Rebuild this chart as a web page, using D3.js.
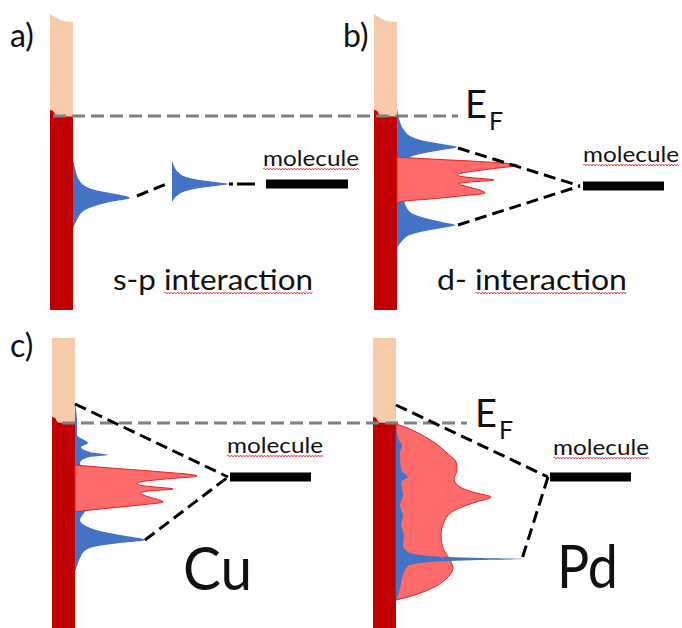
<!DOCTYPE html>
<html>
<head>
<meta charset="utf-8">
<script src="https://cdn.jsdelivr.net/npm/d3@7"></script>
<style>
  html, body { margin: 0; background: #fff; }
  svg { display: block; }
  text { font-family: Lato, "Open Sans", sans-serif; fill: #111; }
</style>
</head>
<body>
<svg id="fig" width="682" height="628"></svg>
<script>
// Energies are in arbitrary units relative to the Fermi level (E = 0, negative = bound),
// densities of states in arbitrary units measured from the metal surface.

const panelTags = ["a)", "b)", "c)", ""];
const captions = ["s-p interaction", "d- interaction", "Cu", "Pd"];
const moleculeLevel = [-6.8, -7.0, -5.4, -5.4];
const moleculeSpan = [[19.3, 27.5], [18.6, 26.7], [15.5, 23.6], [15.4, 23.5]];
const bandTop = [10.2, 10.2, 8.5, 8.5];
const bandBottom = [-19.4, -19.4, -21, -21];

// s-p projected density of states [density, energy]
const spA = [[0,-4.4],[0.1,-4.8],[0.3,-5.6],[0.6,-6.4],[1.2,-7.0],[2.2,-7.4],[3.7,-7.7],[5.7,-8.2],
  [3.7,-8.6],[2.2,-9.0],[1.2,-9.4],[0.6,-10.0],[0.3,-10.6],[0.1,-11.0],[0,-11.3]];
// broadened molecular level in panel a, standing on density 9.9
const spAmolBase = 9.9;
const spAmol = [[9.9,-4.4],[10.1,-5.0],[10.5,-5.6],[11.3,-6.1],[12.7,-6.4],[14.2,-6.6],[15.5,-6.8],
  [14.2,-7.0],[12.7,-7.2],[11.3,-7.5],[10.5,-7.9],[10.1,-8.3],[9.9,-8.6]];
const spB = [[0,0.8],[0.1,0.2],[0.3,-0.6],[0.7,-1.4],[1.5,-2.1],[2.8,-2.5],[4.5,-2.8],[6.0,-3.1],
  [4.5,-3.4],[2.8,-3.7],[1.3,-4.1],[0.7,-4.6],[0.5,-6.4],[0.7,-8.4],[1.3,-9.6],[2.8,-10.2],
  [4.5,-10.6],[5.8,-10.9],[4.5,-11.2],[2.8,-11.5],[1.3,-11.9],[0.6,-12.4],[0.2,-12.9],[0,-13.2]];
const spC = [[0,2.0],[0.1,1.3],[0.2,0.3],[0.2,-1.2],[1.3,-2.0],[0.6,-2.4],[1.5,-2.9],[3.3,-3.2],
  [1.5,-3.4],[0.6,-3.8],[0.5,-4.0],[0.9,-4.9],[0.5,-5.7],[1.1,-6.5],[0.7,-7.4],[1.3,-8.2],
  [0.9,-9.0],[0.5,-9.7],[1.1,-10.3],[2.5,-10.8],[4.5,-11.2],[7.0,-11.7],[4.5,-12.0],[2.3,-12.3],
  [1.1,-12.7],[0.5,-13.5],[0.2,-14.3],[0,-14.8]];
const spD = [[0,-0.2],[0.3,-1.7],[0.6,-2.3],[0.4,-2.9],[0.5,-4.7],[1.2,-5.4],[0.5,-5.9],[0.7,-7.2],
  [0.4,-8.2],[0.7,-9.2],[0.5,-10.2],[0.8,-11.2],[0.7,-12.2],[1.2,-12.9],[3.4,-13.3],[8.4,-13.5],
  [12.6,-13.6],[8.4,-13.7],[3.4,-13.9],[1.2,-14.3],[0.7,-15.2],[0.4,-16.5],[0.1,-17.5],[0,-17.7]];

// d projected density of states [density, energy]
const dB = [[0,-4.1],[3.3,-4.3],[7.3,-4.5],[12.1,-4.9],[9.3,-5.3],[6.5,-5.7],[6.0,-5.9],[6.8,-6.1],
  [9.7,-6.4],[7.3,-6.6],[6.1,-6.8],[6.8,-7.0],[8.8,-7.7],[6.3,-8.0],[3.3,-8.3],[0.8,-8.5],[0,-8.7]];
const dC = [[0,-4.2],[3.5,-4.5],[7.5,-4.8],[12.2,-5.3],[9.0,-5.6],[6.5,-5.9],[6.2,-6.1],[7.0,-6.3],
  [9.8,-6.6],[7.3,-6.8],[6.5,-7.0],[7.1,-7.3],[8.8,-7.9],[6.5,-8.2],[3.5,-8.5],[0.7,-8.8],[0,-8.9]];
const dD = [[0,-0.1],[0.9,-0.4],[2.4,-1.1],[3.9,-2.0],[5.1,-3.0],[6.0,-3.9],[6.1,-4.7],[5.8,-5.6],
  [6.4,-6.4],[8.0,-7.0],[9.5,-7.4],[8.0,-7.9],[5.9,-8.7],[4.8,-9.9],[4.5,-11.2],[4.7,-12.5],
  [5.4,-13.7],[5.7,-14.5],[5.1,-15.5],[3.2,-16.7],[1.2,-17.4],[0,-17.7]];

// coupling between metal states and the molecular level
const linksA = [[[6.4,-8.0],[9.6,-6.7]]];
const linksB = [[[6.1,-3.2],[18.3,-7.0]], [[6.1,-10.9],[18.3,-7.0]]];
const linksC = [[[0,1.9],[15.3,-5.4]], [[7.0,-11.7],[15.3,-5.4]]];
const linksD = [[[0,1.8],[15.2,-5.4]], [[15.2,-5.4],[12.6,-13.6]]];
// dash-dot join from the broadened level to the molecule in panel a
const joinA = [[15.6,-6.8],[19.2,-6.8]];

// ---- layout of the four panels ----
const frames = [
  { ox: 73,  oy: 116, tag: [10, 47],  cap: [113, 290], capSize: 29, capLen: 200, mol: [-3, -18], ef: null },
  { ox: 397, oy: 116, tag: [343, 47], cap: [437, 290], capSize: 29, capLen: 190, mol: [0, -24],  ef: [6.8, -0.2] },
  { ox: 75,  oy: 423, tag: [10, 357], cap: [183, 590], capSize: 60, capLen: 69,  mol: [-3, -24], ef: null },
  { ox: 396, oy: 423, tag: null,      cap: [557, 588], capSize: 60, capLen: 61,  mol: [3, -22],  ef: [7.9, -0.4] }
];
frames.forEach(f => {
  f.x = d3.scaleLinear().domain([0, 10]).range([f.ox, f.ox + 100]);
  f.y = d3.scaleLinear().domain([0, -10]).range([f.oy, f.oy + 100]);
});

// layer: 0 = under the d band, 1 = over it
const spProfiles = [
  { p: 0, base: 0, pts: spA, layer: 0 }, { p: 0, base: spAmolBase, pts: spAmol, layer: 0 },
  { p: 1, base: 0, pts: spB, layer: 0 }, { p: 2, base: 0, pts: spC, layer: 0 },
  { p: 3, base: 0, pts: spD, layer: 1 }
];
const dProfiles = [{ p: 1, pts: dB }, { p: 2, pts: dC }, { p: 3, pts: dD }];
const links = [linksA, linksB, linksC, linksD];

const COL = { empty: "#f8cbad", filled: "#c00000", sp: "#4472c4", d: "#ff6b6b", dLine: "#e0201e", ef: "#808080" };

const svg = d3.select("#fig");
const barW = 2.3;

// ---- metal bands: empty states above E_F, filled below ----
frames.forEach((f, i) => {
  const g = svg.append("g");
  const line = d3.line().x(d => f.x(d[0])).y(d => f.y(d[1])).curve(d3.curveMonotoneX);
  const top = bandTop[i];
  const topEdge = i < 2
    ? [[-barW, top], [-1.9, top - 0.25], [-1.4, top - 0.55], [-0.7, top - 0.75], [0, top - 0.8]]
    : [[-barW, top], [0, top]];
  g.append("path")
    .attr("d", line(topEdge) + `L${f.x(0)},${f.y(0)}L${f.x(-barW)},${f.y(0)}Z`)
    .attr("fill", COL.empty);
  const fermiEdge = [[-barW, 0.6], [-2.0, 0.5], [-1.7, 0.05], [0, -0.05]];
  g.append("path")
    .attr("d", line(fermiEdge) + `L${f.x(0)},${f.y(bandBottom[i])}L${f.x(-barW)},${f.y(bandBottom[i])}Z`)
    .attr("fill", COL.filled);
});

// ---- Fermi level ----
const efLines = [
  [frames[0].x(-2.0), frames[1].x(6.1), frames[0].y(0)],
  [frames[2].x(-1.3), frames[3].x(7.1), frames[2].y(0)]
];
svg.selectAll("line.ef").data(efLines).join("line")
  .attr("x1", d => d[0]).attr("x2", d => d[1]).attr("y1", d => d[2]).attr("y2", d => d[2])
  .attr("stroke", COL.ef).attr("stroke-width", 3).attr("stroke-dasharray", "13 6");

// ---- projected densities of states ----
const dosArea = (f, base) => d3.area()
  .curve(d3.curveMonotoneY)
  .y(d => f.y(d[1]))
  .x0(() => f.x(base))
  .x1(d => f.x(d[0]));

function drawSp(layer) {
  spProfiles.filter(s => s.layer === layer).forEach(s => {
    const f = frames[s.p];
    svg.append("path").attr("d", dosArea(f, s.base)(s.pts)).attr("fill", COL.sp);
  });
}
drawSp(0);
dProfiles.forEach(s => {
  const f = frames[s.p];
  svg.append("path").attr("d", dosArea(f, 0)(s.pts))
    .attr("fill", COL.d).attr("stroke", COL.dLine).attr("stroke-width", 1);
});
drawSp(1);

// ---- coupling lines ----
links.forEach((set, i) => {
  const f = frames[i];
  set.forEach(l => {
    svg.append("line")
      .attr("x1", f.x(l[0][0])).attr("y1", f.y(l[0][1]))
      .attr("x2", f.x(l[1][0])).attr("y2", f.y(l[1][1]))
      .attr("stroke", "#000").attr("stroke-width", 3).attr("stroke-dasharray", "12 6");
  });
});
svg.append("line")
  .attr("x1", frames[0].x(joinA[0][0])).attr("y1", frames[0].y(joinA[0][1]))
  .attr("x2", frames[0].x(joinA[1][0])).attr("y2", frames[0].y(joinA[1][1]))
  .attr("stroke", "#000").attr("stroke-width", 3).attr("stroke-dasharray", "4 4 18 100");

// ---- molecular levels ----
function squiggle(x1, x2, y) {
  let d = `M${x1},${y}`;
  let up = true;
  for (let x = x1 + 1.5; x <= x2; x += 1.5) { d += `L${x},${y + (up ? -1 : 1)}`; up = !up; }
  return d;
}
frames.forEach((f, i) => {
  const [a, b] = moleculeSpan[i];
  const yL = f.y(moleculeLevel[i]);
  svg.append("rect")
    .attr("x", f.x(a)).attr("width", f.x(b) - f.x(a))
    .attr("y", yL - 4.5).attr("height", 9).attr("fill", "#000");
  const tx = f.x(a) + f.mol[0], ty = yL + f.mol[1];
  svg.append("text").attr("x", tx).attr("y", ty)
    .attr("font-size", 21).attr("textLength", 96).attr("lengthAdjust", "spacingAndGlyphs")
    .text("molecule");
  svg.append("path").attr("d", squiggle(tx, tx + 96, ty + 3))
    .attr("fill", "none").attr("stroke", "#e23b3b").attr("stroke-width", 0.9);
});

// ---- labels ----
frames.forEach((f, i) => {
  if (f.tag) {
    svg.append("text").attr("x", f.tag[0]).attr("y", f.tag[1])
      .attr("font-size", 32).text(panelTags[i]);
  }
  const t = svg.append("text").attr("x", f.cap[0]).attr("y", f.cap[1])
    .attr("font-size", f.capSize)
    .attr("textLength", f.capLen).attr("lengthAdjust", "spacingAndGlyphs")
    .text(captions[i]);
  const k = captions[i].indexOf("interaction");
  if (k >= 0) {
    const node = t.node();
    const xs = node.getStartPositionOfChar(k).x;
    const xe = node.getEndPositionOfChar(captions[i].length - 1).x;
    svg.append("path").attr("d", squiggle(xs, xe, f.cap[1] + 3))
      .attr("fill", "none").attr("stroke", "#e23b3b").attr("stroke-width", 0.9);
  }
  if (f.ef) {
    const ex = f.x(f.ef[0]), ey = f.y(f.ef[1]);
    const ef = svg.append("text").attr("x", ex).attr("y", ey).attr("font-size", 38);
    ef.append("tspan").text("E");
    ef.append("tspan").attr("font-size", 25).attr("dx", 2).attr("dy", 12).text("F");
  }
});
</script>
</body>
</html>
